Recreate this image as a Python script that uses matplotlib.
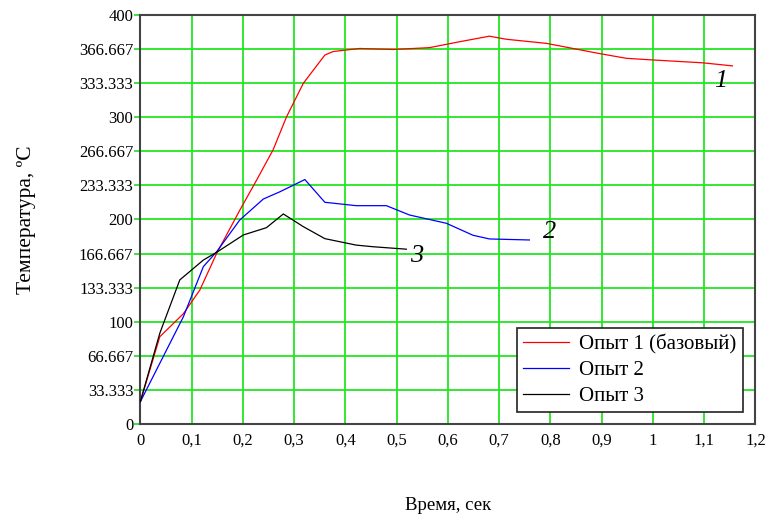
import matplotlib
matplotlib.use("Agg")
import matplotlib.pyplot as plt
from matplotlib.ticker import FixedLocator

# Data
t1 = [0.0, 0.038, 0.084, 0.116, 0.149, 0.194, 0.227, 0.259, 0.285, 0.318, 0.360, 0.376, 0.402, 0.428,
      0.493, 0.564, 0.623, 0.681, 0.714, 0.792, 0.896, 0.948, 0.999, 1.097, 1.155]
T1 = [22, 85.5, 108, 131, 167, 209, 238.6, 268, 300, 333, 360.6, 364, 365.5, 367,
      366, 367.8, 373.6, 379, 376, 372, 362, 357.4, 355.8, 353, 350]

t2 = [0.0, 0.084, 0.123, 0.149, 0.194, 0.240, 0.272, 0.321, 0.360, 0.421, 0.480, 0.525, 0.597,
      0.649, 0.681, 0.759]
T2 = [22, 105, 154, 168.6, 199.5, 220, 227, 239, 216.8, 213.5, 213.5, 204.4, 196.3,
      184.6, 181, 180]

t3 = [0.0, 0.038, 0.077, 0.123, 0.149, 0.201, 0.246, 0.279, 0.318, 0.360, 0.421, 0.454, 0.519]
T3 = [22, 88.9, 141, 160.4, 168, 184.9, 192, 205.4, 193, 181.3, 175, 173.4, 171]

series_labels = ["Опыт 1 (базовый)", "Опыт 2", "Опыт 3"]
curve_numbers = ["1", "2", "3"]
curve_number_pos = [(1.133, 335), (0.798, 188), (0.540, 164)]

x_ticks = [0, 0.1, 0.2, 0.3, 0.4, 0.5, 0.6, 0.7, 0.8, 0.9, 1.0, 1.1, 1.2]
x_tick_labels = ["0", "0,1", "0,2", "0,3", "0,4", "0,5", "0,6", "0,7", "0,8", "0,9", "1", "1,1", "1,2"]
y_ticks = [0, 100/3, 200/3, 100, 400/3, 500/3, 200, 700/3, 800/3, 300, 1000/3, 1100/3, 400]
y_tick_labels = ["0", "33.333", "66.667", "100", "133.333", "166.667", "200", "233.333",
                 "266.667", "300", "333.333", "366.667", "400"]

serif = "Liberation Serif"

fig = plt.figure(figsize=(7.68, 5.15), dpi=100)
ax = fig.add_axes([0.1827, 0.1761, 0.8010, 0.7954])

ax.plot(t1, T1, color="#ff0000", lw=0.9, label=series_labels[0], zorder=3)
ax.plot(t2, T2, color="#0000ff", lw=0.9, label=series_labels[1], zorder=3)
ax.plot(t3, T3, color="#000000", lw=0.9, label=series_labels[2], zorder=3)

for txt, (xx, yy) in zip(curve_numbers, curve_number_pos):
    ax.text(xx, yy, txt, fontfamily=serif, fontstyle="italic", fontsize=19,
            ha="center", va="center", zorder=4)

ax.set_xlim(0, 1.2)
ax.set_ylim(0, 400)
ax.xaxis.set_major_locator(FixedLocator(x_ticks))
ax.yaxis.set_major_locator(FixedLocator(y_ticks))
ax.set_xticklabels(x_tick_labels, fontfamily=serif, fontsize=12)
ax.set_yticklabels(y_tick_labels, fontfamily=serif, fontsize=12)
ax.tick_params(axis="x", length=0, pad=6)
ax.tick_params(axis="y", length=4, color="#22dd22", width=1.2, pad=1)

ax.grid(True, color="#22e622", lw=1.3, zorder=1)
ax.set_axisbelow(True)
for s in ax.spines.values():
    s.set_color("#444444")
    s.set_linewidth(1.5)

ax.set_xlabel("Время, сек", fontfamily=serif, fontsize=13.5, labelpad=35)
ax.set_ylabel("Температура, ºC", fontfamily=serif, fontsize=15.5, labelpad=31)

leg = ax.legend(loc="lower right", bbox_to_anchor=(0.979, 0.029), prop={"family": serif, "size": 15},
                frameon=True, fancybox=False, handlelength=2.2, handletextpad=0.5,
                borderpad=0.3, labelspacing=0.3, borderaxespad=0)
leg.get_frame().set_edgecolor("#222222")
leg.get_frame().set_linewidth(1.2)
leg.get_frame().set_facecolor("white")
leg.get_frame().set_alpha(1)
leg.set_zorder(5)

fig.savefig("out.png", dpi=100)
